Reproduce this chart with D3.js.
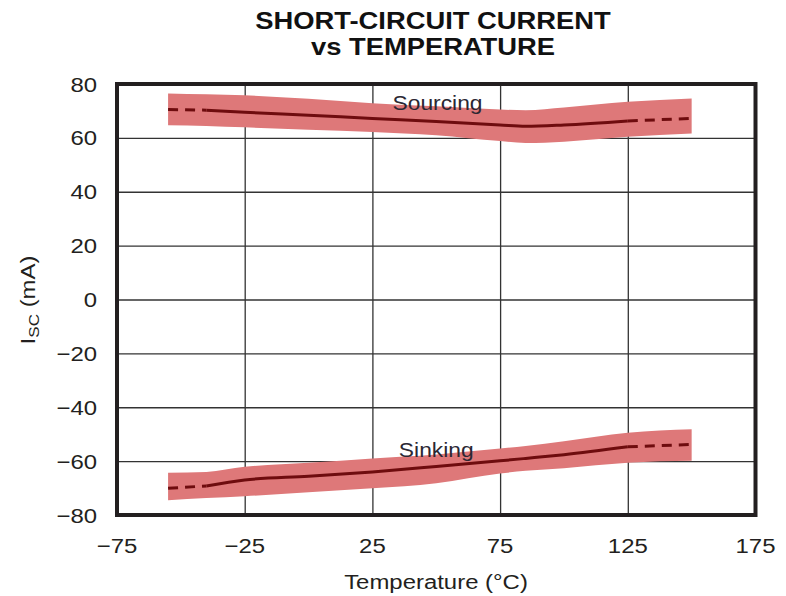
<!DOCTYPE html>
<html><head><meta charset="utf-8">
<script src="https://cdn.jsdelivr.net/npm/d3@7"></script>
<style>body{margin:0;background:#fff}svg{display:block}text{font-family:"Liberation Sans",Arial,sans-serif}</style>
</head><body><svg id="c" width="786" height="596"></svg>
<script>
const temps = [-55,-40,-25,0,25,50,75,85,100,125,150];
const sourcing   = [70.5,70.3,69.5,68.4,67.2,66.1,64.8,64.3,64.8,66.3,67.2];
const sourcingHi = [76.5,76.2,75.8,74.5,72.9,71.7,70.5,70.3,71.3,73.4,74.6];
const sourcingLo = [64.7,64.4,63.9,63.0,62.2,61.0,58.8,58.1,58.6,60.4,61.6];
const sinking   = [-70.1,-69.2,-67,-65.6,-64,-62,-59.9,-59,-57.6,-54.7,-53.8];
const sinkingHi = [-64.3,-64,-62.1,-60.6,-59,-57.5,-55.3,-54.4,-52.6,-49.5,-48.2];
const sinkingLo = [-74.5,-73.7,-73,-71.6,-70.1,-68.2,-64.6,-63.6,-62.6,-60.6,-59.9];
const xTicks = [-75,-25,25,75,125,175];
const yTicks = [-80,-60,-40,-20,0,20,40,60,80];
const solidRange = [-40,125];
const SX = 1.14; // horizontal stretch of the reference lettering

const svg = d3.select("#c");
const x = d3.scaleLinear().domain([-75,175]).range([117,755.5]);
const y = d3.scaleLinear().domain([-80,80]).range([515,84]);

function label(px, py, str, opts){
  const t = svg.append("text")
    .attr("transform",`translate(${px},${py})${opts.rotate?" rotate("+opts.rotate+")":""} scale(${SX},1)`)
    .attr("text-anchor",opts.anchor||"middle").attr("font-size",opts.size||21)
    .attr("fill",opts.fill||"#231f20");
  if(opts.bold) t.attr("font-weight","bold");
  if(str!==null) t.text(str);
  return t;
}

// gridlines
const grid = svg.append("g");
grid.append("g").attr("transform","translate(0,515)")
  .call(d3.axisBottom(x).tickValues(xTicks).tickSize(-431).tickFormat(""))
  .call(g=>{g.select(".domain").remove();g.selectAll("line").attr("stroke","#333").attr("stroke-width",1.3);});
grid.append("g").attr("transform","translate(117,0)")
  .call(d3.axisLeft(y).tickValues(yTicks).tickSize(-638.5).tickFormat(""))
  .call(g=>{g.select(".domain").remove();g.selectAll("line").attr("stroke","#333").attr("stroke-width",1.3);});

function series(vals, hi, lo, name, lx, ly){
  const pts = temps.map((t,i)=>({t, v:vals[i], hi:hi[i], lo:lo[i]}));
  const area = d3.area().x(d=>x(d.t)).y0(d=>y(d.lo)).y1(d=>y(d.hi)).curve(d3.curveMonotoneX);
  svg.append("path").datum(pts).attr("d",area).attr("fill","#de7879");
  const line = d3.line().x(d=>x(d.t)).y(d=>y(d.v)).curve(d3.curveMonotoneX);
  const left = pts.filter(d=>d.t<=solidRange[0]);
  const mid = pts.filter(d=>d.t>=solidRange[0]&&d.t<=solidRange[1]);
  const right = pts.filter(d=>d.t>=solidRange[1]);
  [left,right].forEach(seg=>svg.append("path").datum(seg).attr("d",line)
     .attr("fill","none").attr("stroke","#6e0c0e").attr("stroke-width",3).attr("stroke-dasharray","10,7"));
  svg.append("path").datum(mid).attr("d",line).attr("fill","none").attr("stroke","#6e0c0e").attr("stroke-width",3);
  label(x(lx), y(ly), name, {size:20, fill:"#2b2733"});
}
series(sourcing, sourcingHi, sourcingLo, "Sourcing", 50.5, 70.2);
series(sinking, sinkingHi, sinkingLo, "Sinking", 50, -58.3);

// frame
svg.append("rect").attr("x",117).attr("y",84).attr("width",638.5).attr("height",431)
  .attr("fill","none").attr("stroke","#231f20").attr("stroke-width",4);

// tick labels
const fmt = d=>d<0?"\u2212"+Math.abs(d):String(d);
yTicks.forEach(d=>label(97, y(d)+7.5, fmt(d), {anchor:"end", size:21}));
xTicks.forEach(d=>label(x(d), 553, fmt(d), {size:21}));

// axis titles
label(436, 589, "Temperature (\u00B0C)", {size:21});
const yl = label(35, 300, null, {rotate:-90, size:21});
yl.append("tspan").text("I");
yl.append("tspan").attr("font-size",15).attr("dy",4).text("SC");
yl.append("tspan").attr("dy",-4).text(" (mA)");

// title
label(433, 29, "SHORT-CIRCUIT CURRENT", {size:24, bold:true, fill:"#111"});
label(433, 55, "vs TEMPERATURE", {size:24, bold:true, fill:"#111"});
</script></body></html>
